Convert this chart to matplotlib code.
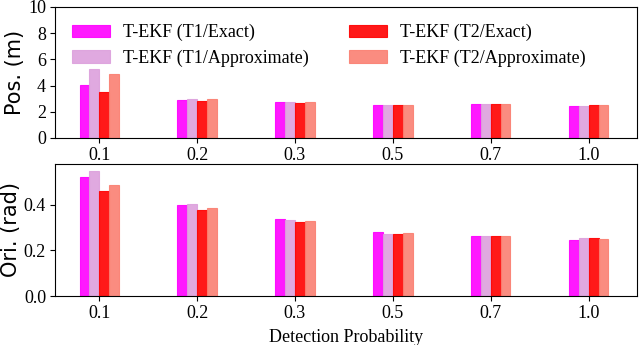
import numpy as np
import matplotlib
matplotlib.use("Agg")
import matplotlib.pyplot as plt

probs = ["0.1", "0.2", "0.3", "0.5", "0.7", "1.0"]
labels = ["T-EKF (T1/Exact)", "T-EKF (T1/Approximate)",
          "T-EKF (T2/Exact)", "T-EKF (T2/Approximate)"]
colors = ["#ff00ff", "#dda0dd", "#ff0000", "#fa8072"]

pos_t1_exact = [4.05, 2.90, 2.72, 2.50, 2.57, 2.44]
pos_t1_approx = [5.27, 2.97, 2.72, 2.50, 2.57, 2.46]
pos_t2_exact = [3.50, 2.82, 2.65, 2.50, 2.57, 2.50]
pos_t2_approx = [4.90, 2.95, 2.72, 2.50, 2.57, 2.50]

ori_t1_exact = [0.521, 0.398, 0.336, 0.279, 0.262, 0.248]
ori_t1_approx = [0.549, 0.405, 0.335, 0.273, 0.262, 0.253]
ori_t2_exact = [0.460, 0.376, 0.325, 0.273, 0.262, 0.254]
ori_t2_approx = [0.486, 0.386, 0.328, 0.275, 0.264, 0.250]

pos = [pos_t1_exact, pos_t1_approx, pos_t2_exact, pos_t2_approx]
ori = [ori_t1_exact, ori_t1_approx, ori_t2_exact, ori_t2_approx]

plt.rcParams['font.family'] = 'Liberation Serif'
plt.rcParams['font.size'] = 13

fig = plt.figure(figsize=(6.4, 3.45), dpi=100)
ax1 = fig.add_axes([0.086, 0.60, 0.909, 0.38])
ax2 = fig.add_axes([0.086, 0.142, 0.909, 0.383])

x = np.arange(len(probs))
w = 0.1
offsets = [-1.5, -0.5, 0.5, 1.5]

for ax, data in [(ax1, pos), (ax2, ori)]:
    for i in range(4):
        ax.bar(x + offsets[i] * w, data[i], w, color=colors[i], alpha=0.9,
               edgecolor=colors[i], linewidth=0.8, label=labels[i])
    ax.set_xticks(x)
    ax.set_xticklabels(probs)
    ax.set_xlim(-0.45, 5.49)
    ax.tick_params(labelsize=13, pad=3)

ax1.set_ylim(0, 10)
ax1.set_yticks([0, 2, 4, 6, 8, 10])
ax1.set_ylabel("Pos. (m)", family="DejaVu Sans", fontsize=15, labelpad=2)
ax1.legend(ncol=2, loc="upper left", bbox_to_anchor=(0.029, 0.87), frameon=False,
           fontsize=13, borderpad=0, borderaxespad=0,
           handlelength=2.1, handletextpad=0.75, columnspacing=2.2, labelspacing=0.45)

ax2.set_ylim(0, 0.58)
ax2.set_yticks([0.0, 0.2, 0.4])
ax2.set_ylabel("Ori. (rad)", family="DejaVu Sans", fontsize=15, labelpad=2)
ax2.set_xlabel("Detection Probability", fontsize=13, labelpad=5)

plt.savefig("out.png")
plt.close()
